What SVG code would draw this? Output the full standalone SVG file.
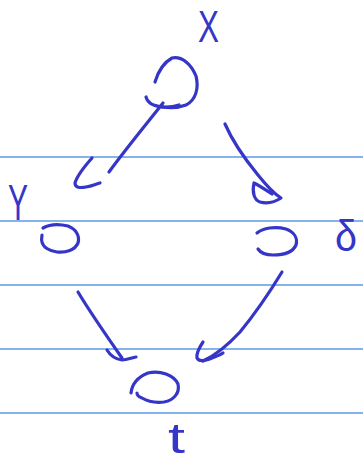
<svg xmlns="http://www.w3.org/2000/svg" width="363" height="464" viewBox="0 0 363 464">
<style>
.rule{stroke:#5d9ae6;stroke-width:1.3;fill:none}
.ink{stroke:#3535c8;stroke-width:3.2;fill:none;stroke-linecap:round;stroke-linejoin:round}
.lbl{font-family:"Liberation Sans",Arial,sans-serif;fill:#3535c8}
</style>
<rect width="363" height="464" fill="#ffffff"/>
<g id="paper">
<line class="rule" x1="0" y1="157" x2="363" y2="157"/>
<line class="rule" x1="0" y1="221" x2="363" y2="221"/>
<line class="rule" x1="0" y1="285" x2="363" y2="285"/>
<line class="rule" x1="0" y1="349" x2="363" y2="349"/>
<line class="rule" x1="0" y1="413" x2="363" y2="413"/>
</g>
<g id="connectors">
<path class="ink" d="M146,97 C148,104 156,107 166,107 C172,107 176,106 179,105"/>
<path class="ink" d="M163,103 C148,122 125,150 109,172"/>
<path class="ink" d="M92,158 C84,167 77,176 75,183 C75,188 80,188 86,187 C92,186 96,184 100,183"/>
<path class="ink" d="M225,124 C232,140 244,158 258,175 C266,185 273,193 281,198 C275,202 268,204 260,202 C254,200 252,192 254,183 C260,186 266,190 272,194"/>
<path class="ink" d="M78,292 C90,312 108,338 122,358"/>
<path class="ink" d="M107,350 C110,355 114,359 122,360 C127,360 131,358 136,357"/>
<path class="ink" d="M282,272 C268,295 254,315 240,332 C228,345 216,355 203,361"/>
<path class="ink" d="M203,342 C199,348 196,353 197,358 C199,362 205,361 212,358 C217,356 220,355 223,353"/>
</g>
<g id="node-x">
<path class="ink" d="M155,82 C158,72 163,63 172,58 C182,56 191,64 196,76 C199,88 196,100 186,105 C178,108 168,108 162,107"/>
<text class="lbl" x="198" y="42" font-size="44" textLength="21" lengthAdjust="spacingAndGlyphs">X</text>
</g>
<g id="node-y">
<path class="ink" d="M43,228 C50,224 60,224 68,226 C76,229 80,236 78,243 C75,250 66,253 57,252 C49,251 43,247 42,242 C41,239 42,237 42,235"/>
<text class="lbl" x="8" y="220" font-size="50" textLength="20" lengthAdjust="spacingAndGlyphs">Y</text>
</g>
<g id="node-z">
<path class="ink" d="M257,233 C263,228 275,226 286,229 C294,232 298,238 296,245 C293,252 284,255 273,255 C265,255 260,252 258,249"/>
<text class="lbl" x="335" y="251" font-size="44" textLength="22" lengthAdjust="spacingAndGlyphs">δ</text>
</g>
<g id="node-t">
<path class="ink" d="M131,393 C132,384 138,377 148,373 C160,370 174,375 178,384 C180,393 174,400 164,402 C155,403 147,401 142,398 C139,397 137,395 137,393"/>
<text class="lbl" x="168" y="453" font-size="42" textLength="17" lengthAdjust="spacingAndGlyphs">t</text>
</g>
</svg>
